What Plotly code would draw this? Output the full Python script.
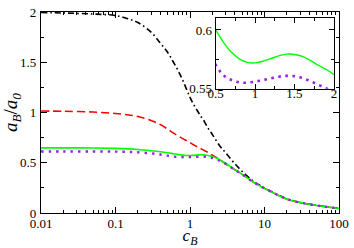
import plotly.graph_objects as go

# ---- data ----
c_B = [0.01, 0.02, 0.05, 0.1, 0.15, 0.2, 0.3, 0.4, 0.5, 0.6, 0.7, 0.8, 0.9, 1.0,
       1.1, 1.2, 1.3, 1.4, 1.5, 1.6, 1.7, 1.8, 1.9, 2.0, 2.5, 3.0, 4.0, 5.0, 7.0,
       10.0, 15.0, 20.0, 30.0, 50.0, 70.0, 100.0]

black_dashdot = [1.995, 1.99, 1.98, 1.965, 1.93, 1.895, 1.80, 1.69, 1.60, 1.50, 1.41, 1.32, 1.23, 1.15,
                 1.09, 1.04, 1.0, 0.96, 0.93, 0.895, 0.86, 0.83, 0.805, 0.78, 0.67, 0.60, 0.49, 0.415, 0.32,
                 0.25, 0.183, 0.14, 0.104, 0.075, 0.06, 0.045]

red_dashed = [1.015, 1.012, 1.005, 0.99, 0.975, 0.96, 0.92, 0.88, 0.835, 0.795, 0.765, 0.74, 0.72, 0.70,
              0.682, 0.665, 0.652, 0.64, 0.628, 0.617, 0.607, 0.595, 0.585, 0.575, 0.53, 0.49, 0.43, 0.385, 0.31,
              0.245, 0.18, 0.138, 0.104, 0.075, 0.06, 0.045]

green_solid = [0.648, 0.648, 0.647, 0.643, 0.638, 0.632, 0.62, 0.61, 0.600, 0.5895, 0.581, 0.5755, 0.5725, 0.572,
               0.5735, 0.5757, 0.578, 0.5795, 0.5792, 0.5775, 0.5742, 0.5700, 0.5665, 0.562, 0.53, 0.495, 0.43, 0.385, 0.31,
               0.245, 0.18, 0.138, 0.104, 0.075, 0.06, 0.045]

purple_dotted = [0.612, 0.612, 0.612, 0.611, 0.608, 0.604, 0.594, 0.582, 0.5705, 0.5615, 0.5575, 0.5555, 0.5552, 0.5562,
                 0.5573, 0.5589, 0.5603, 0.561, 0.5606, 0.5592, 0.5565, 0.5535, 0.5505, 0.547, 0.52, 0.49, 0.43, 0.385, 0.31,
                 0.245, 0.18, 0.138, 0.104, 0.075, 0.06, 0.045]

main_xticks = [0.01, 0.1, 1, 10, 100]
main_xticklabels = ["0.01", "0.1", "1", "10", "100"]
main_yticks = [0, 0.5, 1, 1.5, 2]
main_yticklabels = ["0", "0.5", "1", "1.5", "2"]
inset_xticks = [0.5, 1, 1.5, 2]
inset_xticklabels = ["0.5", "1", "1.5", "2"]
inset_yticks = [0.55, 0.6]
inset_yticklabels = ["0.55", "0.6"]

# ---- styles ----
BLACK = "#000000"
RED = "#ff0000"
GREEN = "#00ff00"
PURPLE = "#9b1fe8"
FONT = "Liberation Serif, Times New Roman, serif"

fig = go.Figure()

# main traces
fig.add_trace(go.Scatter(x=c_B, y=black_dashdot, mode="lines", line=dict(color=BLACK, width=1.6, dash="6px,3px,1.6px,3px", shape="spline"),
                         xaxis="x", yaxis="y"))
fig.add_trace(go.Scatter(x=c_B, y=red_dashed, mode="lines", line=dict(color=RED, width=1.6, dash="8px,4px", shape="spline"),
                         xaxis="x", yaxis="y"))
fig.add_trace(go.Scatter(x=c_B, y=green_solid, mode="lines", line=dict(color=GREEN, width=1.6, shape="spline"),
                         xaxis="x", yaxis="y"))
fig.add_trace(go.Scatter(x=c_B, y=purple_dotted, mode="lines", line=dict(color=PURPLE, width=2.4, dash="2.4px,5px", shape="spline"),
                         xaxis="x", yaxis="y"))

# inset traces
fig.add_trace(go.Scatter(x=c_B, y=green_solid, mode="lines", line=dict(color=GREEN, width=1.4, shape="spline"),
                         xaxis="x2", yaxis="y2"))
fig.add_trace(go.Scatter(x=c_B, y=purple_dotted, mode="lines", line=dict(color=PURPLE, width=2.6, dash="2.6px,4.5px", shape="spline"),
                         xaxis="x2", yaxis="y2"))

minor_x = [m * 10 ** e for e in range(-2, 2) for m in range(2, 10)]

axis_common = dict(showline=True, linecolor=BLACK, linewidth=1.3, mirror="allticks", ticks="inside",
                   tickcolor=BLACK, showgrid=False, zeroline=False, ticklabeloverflow="allow",
                   tickfont=dict(family=FONT, size=13, color=BLACK))

fig.update_layout(
    width=354, height=248,
    margin=dict(l=40, r=12, t=5, b=31),
    paper_bgcolor="white", plot_bgcolor="white",
    showlegend=False,
    xaxis=dict(type="log", range=[-2, 2], domain=[0, 1], anchor="y",
               tickvals=main_xticks, ticktext=main_xticklabels, ticklen=6,
               minor=dict(tickvals=minor_x, ticks="inside", ticklen=3, tickcolor=BLACK, showgrid=False),
               ticklabelstandoff=-2,
               title=dict(text="<i>c</i><sub><i>B</i></sub>", font=dict(family=FONT, size=17, color=BLACK), standoff=0),
               **axis_common),
    yaxis=dict(range=[0, 2], domain=[0, 1], anchor="x",
               tickvals=main_yticks, ticktext=main_yticklabels, ticklen=6,
               minor=dict(dtick=0.25, ticks="inside", ticklen=3, tickcolor=BLACK, showgrid=False),
               ticklabelstandoff=1,
               title=dict(text="<i>a</i><sub><i>B</i></sub>/<i>a</i><sub><i>0</i></sub>", font=dict(family=FONT, size=19, color=BLACK), standoff=2),
               **axis_common),
    xaxis2=dict(range=[0.5, 2], domain=[0.586, 0.983], anchor="y2",
                tickvals=inset_xticks, ticktext=inset_xticklabels, ticklen=5,
                minor=dict(dtick=0.25, ticks="inside", ticklen=3, tickcolor=BLACK, showgrid=False),
                ticklabelstandoff=-8,
                **axis_common),
    yaxis2=dict(range=[0.55, 0.6105], domain=[0.618, 0.972], anchor="x2",
                tickvals=inset_yticks, ticktext=inset_yticklabels, ticklen=5,
                minor=dict(dtick=0.025, tick0=0.55, ticks="inside", ticklen=3, tickcolor=BLACK, showgrid=False),
                ticklabelstandoff=0,
                **axis_common),
)

fig.write_html("out.html", config={"displayModeBar": False},
               post_script="document.body.style.margin='0';document.body.style.overflow='hidden';")
